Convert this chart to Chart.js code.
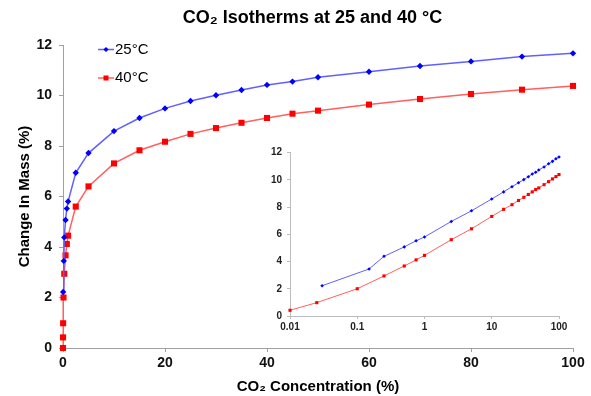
<!DOCTYPE html>
<html>
<head>
<meta charset="utf-8">
<script src="https://cdn.jsdelivr.net/npm/chart.js@4.4.0/dist/chart.umd.min.js"></script>
<style>
  html, body { margin: 0; padding: 0; background: #fff; }
  #wrap { position: relative; width: 591px; height: 396px; }
  #main { position: absolute; left: 0; top: 0; }
  #inset { position: absolute; left: 260px; top: 140px; }
</style>
</head>
<body>
<div id="wrap">
  <canvas id="main" width="591" height="396"></canvas>
  <canvas id="inset" width="320" height="200"></canvas>
</div>
<script>
// CO2 concentration (%) and mass change (%)
const conc25 = [0.03, 0.15, 0.25, 0.5, 0.75, 1, 2.5, 5, 10, 15, 20, 25, 30, 35, 40, 45, 50, 60, 70, 80, 90, 100];
const mass25 = [2.22, 3.45, 4.38, 5.07, 5.52, 5.8, 6.94, 7.72, 8.59, 9.11, 9.49, 9.78, 10.01, 10.22, 10.42, 10.55, 10.72, 10.94, 11.17, 11.35, 11.54, 11.67];

const conc40 = [0, 0.01, 0.025, 0.1, 0.25, 0.5, 0.75, 1, 2.5, 5, 10, 15, 20, 25, 30, 35, 40, 45, 50, 60, 70, 80, 90, 100];
const mass40 = [0, 0.42, 0.98, 2.0, 2.94, 3.67, 4.12, 4.45, 5.6, 6.4, 7.31, 7.83, 8.17, 8.48, 8.71, 8.92, 9.11, 9.28, 9.40, 9.64, 9.86, 10.06, 10.23, 10.38];

const seriesNames = ["25°C", "40°C"];
const xTicks = [0, 20, 40, 60, 80, 100];
const yTicks = [0, 2, 4, 6, 8, 10, 12];
const insetXTicks = [0.01, 0.1, 1, 10, 100];

const FONT = "'Liberation Sans', Arial, sans-serif";
const AXIS = "#a0a0a0";
const BLUE = "#0000ff", BLUE_LINE = "#6060ff";
const RED = "#ff0000", RED_LINE = "#ff6060";

const toPoints = (xs, ys, logOnly) =>
  xs.map((x, i) => ({ x: x, y: ys[i] })).filter(p => !logOnly || p.x > 0);

const setTicks = (list) => (scale) => { scale.ticks = list.map(v => ({ value: v })); };

// title sits a bit right of canvas centre in the original
const titleShift = {
  id: "titleShift",
  afterLayout(chart) {
    const t = chart.titleBlock;
    if (t) { t.left += 26; t.right += 26; }
  }
};

// legend drawn inside the plot, top left, stacked
const insideLegend = {
  id: "insideLegend",
  afterDraw(chart) {
    const ctx = chart.ctx;
    chart.data.datasets.forEach((ds, i) => {
      const y = 49.5 + i * 28.5;
      const x0 = 98;
      ctx.save();
      ctx.strokeStyle = ds.borderColor;
      ctx.lineWidth = 1.5;
      ctx.beginPath();
      ctx.moveTo(x0, y);
      ctx.lineTo(x0 + 16, y);
      ctx.stroke();
      ctx.fillStyle = ds.pointBackgroundColor;
      const cx = x0 + 8;
      if (ds.pointStyle === "rect") {
        ctx.fillRect(cx - 2.5, y - 2.5, 5, 5);
      } else {
        ctx.beginPath();
        ctx.moveTo(cx - 2.6, y);
        ctx.lineTo(cx, y - 2.6);
        ctx.lineTo(cx + 2.6, y);
        ctx.lineTo(cx, y + 2.6);
        ctx.closePath();
        ctx.fill();
      }
      ctx.fillStyle = "#000";
      ctx.font = "15px " + FONT;
      ctx.textBaseline = "middle";
      ctx.fillText(ds.label, x0 + 17, y);
      ctx.restore();
    });
  }
};

const makeDatasets = (logOnly, small) => [
  {
    label: seriesNames[0],
    data: toPoints(conc25, mass25, logOnly),
    borderColor: BLUE_LINE,
    borderWidth: small ? 1 : 1.5,
    pointStyle: "rectRot",
    pointRadius: small ? 1.8 : 3.2,
    pointBorderWidth: 0,
    pointBackgroundColor: BLUE,
    clip: false
  },
  {
    label: seriesNames[1],
    data: toPoints(conc40, mass40, logOnly),
    borderColor: RED_LINE,
    borderWidth: small ? 1 : 1.5,
    pointStyle: "rect",
    pointRadius: small ? 2.2 : 4.3,
    pointBorderWidth: 0,
    pointBackgroundColor: RED,
    clip: false
  }
];

new Chart(document.getElementById("main"), {
  type: "line",
  data: { datasets: makeDatasets(false, false) },
  options: {
    responsive: false,
    animation: false,
    layout: { padding: { left: 0, right: 18, top: 0, bottom: 0 } },
    plugins: {
      legend: { display: false },
      tooltip: { enabled: false },
      title: {
        display: true,
        text: "CO₂ Isotherms at 25 and 40 °C",
        color: "#000",
        font: { family: FONT, size: 18, weight: "bold" },
        padding: { top: 7.5, bottom: 15.9 }
      }
    },
    scales: {
      x: {
        type: "linear",
        min: 0,
        max: 100,
        afterFit: (s) => { s.height = 48; },
        afterBuildTicks: setTicks(xTicks),
        grid: { drawOnChartArea: false, tickLength: 4, color: AXIS },
        border: { color: AXIS },
        ticks: { color: "#111", padding: 3, maxRotation: 0, font: { family: FONT, size: 14, weight: "bold" } },
        title: {
          display: true,
          text: "CO₂ Concentration (%)",
          color: "#000",
          font: { family: FONT, size: 15, weight: "bold" },
          padding: { top: 0, bottom: 0 }
        }
      },
      y: {
        min: 0,
        max: 12,
        afterFit: (s) => { s.width = 63; },
        afterBuildTicks: setTicks(yTicks),
        grid: { drawOnChartArea: false, tickLength: 4, color: AXIS },
        border: { color: AXIS },
        ticks: { color: "#111", padding: 7, font: { family: FONT, size: 14, weight: "bold" } },
        title: {
          display: true,
          text: "Change In Mass (%)",
          color: "#000",
          font: { family: FONT, size: 15, weight: "bold" },
          padding: { top: 16, bottom: 0 }
        }
      }
    }
  },
  plugins: [titleShift, insideLegend]
});

new Chart(document.getElementById("inset"), {
  type: "line",
  data: { datasets: makeDatasets(true, true) },
  options: {
    responsive: false,
    animation: false,
    layout: { padding: { left: 0, right: 21, top: 12.5, bottom: 0 } },
    plugins: { legend: { display: false }, tooltip: { enabled: false } },
    scales: {
      x: {
        type: "logarithmic",
        min: 0.01,
        max: 100,
        afterFit: (s) => { s.height = 24; },
        afterBuildTicks: setTicks(insetXTicks),
        grid: { drawOnChartArea: false, tickLength: 3, color: "#bbb" },
        border: { color: "#bbb" },
        ticks: {
          color: "#222",
          padding: 2,
          maxRotation: 0,
          autoSkip: false,
          font: { family: FONT, size: 10, weight: "bold" },
          callback: (v) => String(v)
        }
      },
      y: {
        min: 0,
        max: 12,
        afterFit: (s) => { s.width = 30; },
        afterBuildTicks: setTicks(yTicks),
        grid: { drawOnChartArea: false, tickLength: 3, color: "#bbb" },
        border: { color: "#bbb" },
        ticks: { color: "#222", padding: 5, font: { family: FONT, size: 10, weight: "bold" } }
      }
    }
  }
});
</script>
</body>
</html>
